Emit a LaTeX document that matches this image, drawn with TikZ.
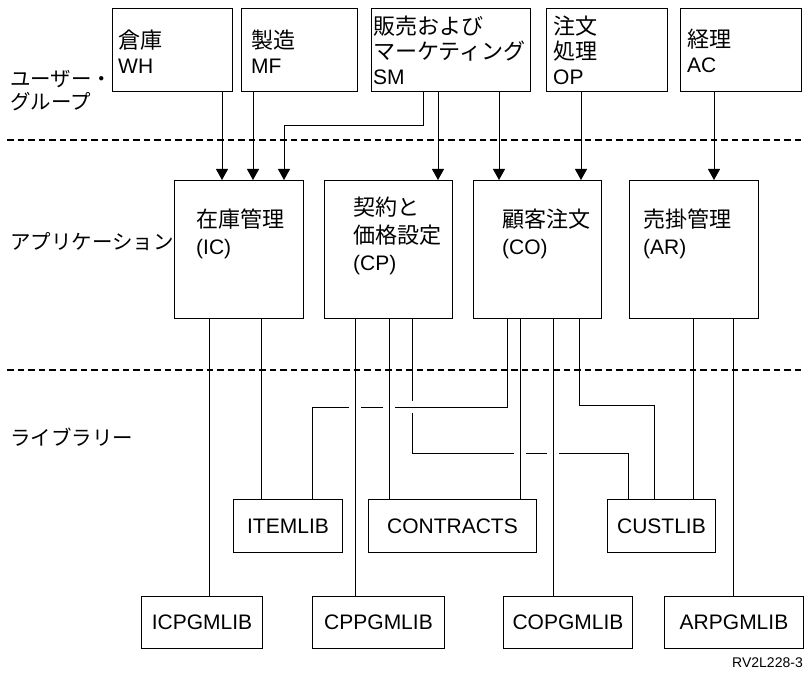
\documentclass[tikz,border=0pt]{standalone}
\usepackage{fontspec}
\setmainfont{Liberation Sans}
\newfontfamily\jp[Scale=1.05]{Noto Sans CJK JP}
\usetikzlibrary{arrows.meta,positioning}

\begin{document}
\begin{tikzpicture}[x=1pt,y=-1pt,
    box/.style={draw,line width=1pt,anchor=north west,inner sep=0pt},
    lib/.style={box,minimum height=53pt,font=\fontsize{21}{25}\selectfont},
    txt/.style={anchor=west,align=left,inner sep=0pt,font=\fontsize{21}{25}\selectfont},
    apptxt/.style={txt,font=\fontsize{21}{27.5}\selectfont},
    side/.style={txt,font=\fontsize{19.5}{23}\selectfont},
    con/.style={line width=0.9pt},
    arr/.style={con,-{Triangle[length=11pt,width=12pt]}},
    sep/.style={line width=1.8pt,dash pattern=on 6.5pt off 4pt}]
  \useasboundingbox (0,0) rectangle (804,676);

  % layer separators
  \draw[sep] (7,140) -- (804,140);
  \draw[sep] (7,370) -- (804,370);

  \node[side] (users) at (10,91) {{\jp ユーザー・}\\{\jp グループ}};
  \node[side] (apps) at (10,242) {\jp アプリケーション};
  \node[side] (libs) at (10,437) {\jp ライブラリー};

  % user groups
  \foreach \nm/\x/\w in {WH/112/120,MF/241/116,SM/371/159,OP/546/121,AC/680/121}
    \node[box,minimum width=\w pt,minimum height=83pt] (\nm) at (\x,8) {};
  \node[txt] (WHt) at (118,52) {{\jp 倉庫}\\WH};
  \node[txt] (MFt) at (251,52) {{\jp 製造}\\MF};
  \node[txt] (SMt) at (373,50) {{\jp 販売および}\\{\jp マーケティング}\\SM};
  \node[txt] (OPt) at (553,50) {{\jp 注文}\\{\jp 処理}\\OP};
  \node[txt] (ACt) at (687,51) {{\jp 経理}\\AC};

  % applications
  \foreach \nm/\x/\w in {IC/174/129,CP/324/128,CO/473/128,AR/629/129}
    \node[box,minimum width=\w pt,minimum height=138pt] (\nm) at (\x,180) {};
  \node[apptxt] (ICt) at (196,234) {{\jp 在庫管理}\\(IC)};
  \node[apptxt] (CPt) at (353,236) {{\jp 契約と}\\{\jp 価格設定}\\(CP)};
  \node[apptxt] (COt) at (502,234) {{\jp 顧客注文}\\(CO)};
  \node[apptxt] (ARt) at (643,234) {{\jp 売掛管理}\\(AR)};

  % libraries
  \foreach \nm/\x/\w in {ITEMLIB/233/109,CONTRACTS/368/168,CUSTLIB/607/108}
    \node[lib,minimum width=\w pt] (\nm) at (\x,499) {\nm};
  \foreach \nm/\x/\w in {ICPGMLIB/141/121,CPPGMLIB/312/132,COPGMLIB/503/129,ARPGMLIB/664/139}
    \node[lib,minimum width=\w pt,minimum height=52pt] (\nm) at (\x,596) {\nm};

  \node[anchor=east,inner sep=0pt,font=\fontsize{14}{16}\selectfont] (figid) at (803,663) {RV2L228-3};

  % user groups -> applications
  \draw[arr] (WH.south -| 222,0) -- (IC.north -| 222,0);
  \draw[arr] (MF.south -| 253,0) -- (IC.north -| 253,0);
  \draw[arr] (SM.south -| 423,0) -- (423,125) -- (284,125) -- (IC.north -| 284,0);
  \draw[arr] (SM.south -| 438,0) -- (CP.north -| 438,0);
  \draw[arr] (SM.south -| 499,0) -- (CO.north -| 499,0);
  \draw[arr] (OP.south -| 581,0) -- (CO.north -| 581,0);
  \draw[arr] (AC.south -| 714,0) -- (AR.north -| 714,0);

  % applications -> libraries
  \draw[con] (IC.south -| 209,0) -- (ICPGMLIB.north -| 209,0);
  \draw[con] (IC.south -| 261,0) -- (ITEMLIB.north -| 261,0);
  \draw[con] (CP.south -| 355,0) -- (CPPGMLIB.north -| 355,0);
  \draw[con] (CP.south -| 389,0) -- (CONTRACTS.north -| 389,0);
  \draw[con] (CP.south -| 412,0) -- (412,401) (412,413) -- (412,453) -- (514,453)
    (526,453) -- (547,453) (559,453) -- (628,453) -- (CUSTLIB.north -| 628,0);
  \draw[con] (CO.south -| 507,0) -- (507,407) -- (395,407) (383,407) -- (361,407)
    (349,407) -- (312,407) -- (ITEMLIB.north -| 312,0);
  \draw[con] (CO.south -| 520,0) -- (CONTRACTS.north -| 520,0);
  \draw[con] (CO.south -| 553,0) -- (COPGMLIB.north -| 553,0);
  \draw[con] (CO.south -| 579,0) -- (579,405) -- (654,405) -- (CUSTLIB.north -| 654,0);
  \draw[con] (AR.south -| 693,0) -- (CUSTLIB.north -| 693,0);
  \draw[con] (AR.south -| 733,0) -- (ARPGMLIB.north -| 733,0);
\end{tikzpicture}
\end{document}
